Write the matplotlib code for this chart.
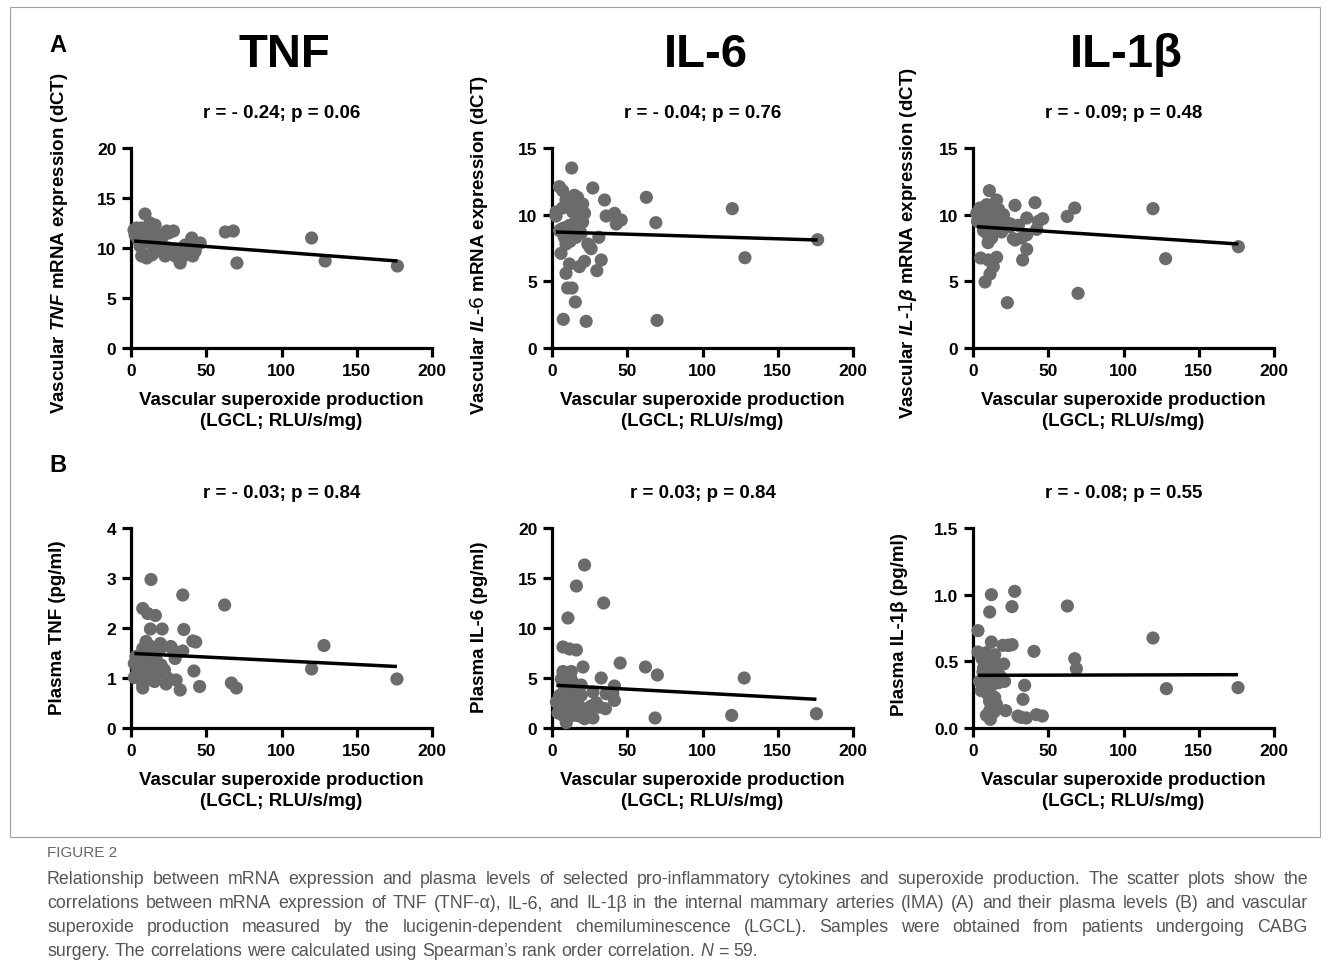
import numpy as np
import matplotlib
matplotlib.use("Agg")
import matplotlib.pyplot as plt
from matplotlib.patches import Rectangle

plt.rcParams["font.family"] = ["Liberation Sans", "DejaVu Sans"]
plt.rcParams["mathtext.fontset"] = "custom"
plt.rcParams["mathtext.it"] = "Liberation Sans:italic:bold"

# ---------------- data ----------------
# A: vascular mRNA expression (dCT) vs superoxide production
tnf_mrna_x = [2.7, 3.8, 4.9, 6, 8.2, 9.3, 9.3, 11.5, 12.7, 14.9, 16, 16, 18.2, 18.2, 20.4,
              21.5, 22.7, 23.8, 24.9, 27.1, 28.2, 29.3, 32.7, 34.9, 36, 38.2, 40.4, 42.7, 46,
              7.1, 10.4, 13.8, 62.7, 68, 70.4, 120, 129, 177,
              5, 7, 10, 12, 13, 11, 14, 17, 19, 20, 15, 9, 25, 26, 30, 33, 35, 41, 2, 8, 6]
tnf_mrna_y = [11.3, 12.0, 10.8, 11.2, 11.7, 13.4, 10.7, 10.8, 12.5, 11.2, 12.3, 10.3, 10.7, 9.8, 10.3,
              11.3, 9.2, 11.7, 10.0, 9.7, 11.7, 9.2, 8.5, 9.2, 10.3, 10.0, 11.0, 9.7, 10.5,
              9.2, 9.0, 9.3, 11.6, 11.7, 8.5, 11.0, 8.7, 8.2,
              11.5, 12.0, 11.5, 11.0, 10.5, 12.0, 11.8, 11.0, 11.2, 10.8, 9.5, 9.3, 11.5, 9.8, 9.9,
              9.8, 10.1, 9.2, 11.8, 10.5, 10.2]

il6_mrna_x = [13.1, 4.9, 7.1, 27.1, 34.9, 62.7, 9.3, 14.9, 20.4, 11.6, 2.7, 13.8, 21.6, 36, 41.6,
              42.7, 46, 20.4, 2.7, 6, 11.6, 13.8, 19.3, 8.2, 9.3, 16, 23.8, 26, 31.1, 6, 11.6,
              21.6, 18.2, 32.7, 9.3, 29.8, 10.4, 13.3, 15.5, 7.5, 22.7, 69, 69.8, 119.8, 128.2, 176.5,
              8, 10, 12, 14, 16, 18, 7, 11, 17, 25, 12, 5, 15]
il6_mrna_y = [13.5, 12.1, 11.8, 12.0, 11.1, 11.3, 11.1, 11.45, 10.8, 10.7, 10.2, 10.2, 10.1, 9.9, 10.1,
              9.3, 9.6, 9.45, 9.9, 8.9, 9.2, 8.8, 8.6, 8.3, 7.8, 8.3, 7.8, 7.45, 8.3, 7.1, 6.3,
              6.5, 6.1, 6.6, 5.6, 5.8, 4.5, 4.5, 3.45, 2.15, 2.0, 9.4, 2.07, 10.45, 6.77, 8.12,
              9.0, 8.6, 8.9, 9.2, 9.5, 9.0, 10.5, 11.0, 11.3, 7.6, 8.0, 8.8, 10.6]

il1b_mrna_x = [10.9, 15.7, 27.9, 41.2, 4.7, 9.1, 2.5, 6.9, 13.5, 20.2, 21.2, 35.7, 43.4, 46.3, 5.8,
               11.3, 16.9, 24.6, 30.2, 9.1, 14.6, 12.4, 26.8, 32.4, 35.7, 42.3, 35.7, 33, 5.1, 10.2,
               15.7, 13.5, 11.3, 8, 22.8, 62.6, 67.6, 69.8, 119.6, 128, 176.3,
               3, 8, 12, 14, 17, 18, 19, 7, 10, 25, 28, 4, 6, 11, 13, 16, 20, 9]
il1b_mrna_y = [11.8, 11.1, 10.7, 10.9, 10.5, 10.75, 10.1, 9.9, 10.1, 10.0, 9.5, 9.75, 9.5, 9.7, 9.4,
               9.1, 9.0, 9.1, 9.2, 8.6, 8.9, 8.25, 8.2, 8.25, 8.5, 8.9, 7.4, 6.6, 6.75, 6.6,
               6.8, 6.1, 5.55, 4.95, 3.4, 9.87, 10.5, 4.1, 10.45, 6.7, 7.6,
               9.5, 10.3, 9.8, 9.6, 10.4, 9.3, 8.7, 8.8, 7.9, 9.3, 8.1, 10.3, 10.0, 10.2, 9.4,
               9.7, 9.1, 9.9]

# B: plasma levels (pg/ml) vs superoxide production
tnf_plasma_x = [13.3, 34.4, 62.2, 7.8, 11.1, 16.2, 12.9, 20.7, 35.1, 41.1, 10, 7.8, 19.5, 26.4, 18.9,
                34.4, 3.3, 10, 14.4, 29.3, 2.2, 6.7, 12.2, 20, 4.4, 11.1, 16.7, 22.2, 41.8, 2.2,
                15.6, 24.4, 30, 7.8, 23.3, 7.8, 32.7, 45.6, 66.7, 70, 120, 128.2, 176.7,
                5, 9, 11, 13, 14, 8, 17, 12, 6, 10, 19, 16, 43, 9, 12, 27]
tnf_plasma_y = [2.97, 2.66, 2.46, 2.39, 2.29, 2.25, 1.98, 1.98, 1.97, 1.74, 1.73, 1.59, 1.69, 1.63, 1.56,
                1.54, 1.43, 1.46, 1.43, 1.39, 1.29, 1.33, 1.26, 1.26, 1.13, 1.16, 1.13, 1.16, 1.14, 1.01,
                0.93, 1.00, 0.96, 0.86, 0.88, 0.80, 0.76, 0.83, 0.90, 0.80, 1.18, 1.65, 0.98,
                1.2, 1.5, 1.35, 1.2, 1.55, 1.05, 1.35, 1.65, 1.4, 1.05, 1.1, 1.6, 1.72, 1.25, 1.45, 1.6]

il6_plasma_x = [21.6, 16.2, 34.3, 10.6, 7.3, 11.7, 16.2, 20.6, 45.3, 62.1, 70, 7.3, 12.8, 32.7, 6.2,
                9.5, 19.4, 13.9, 41.5, 8.4, 27.2, 36, 40.4, 5.1, 12.8, 19.4, 2.9, 10.6, 17.2, 29.4,
                41.5, 5.1, 22.7, 31.6, 35.5, 7.3, 13.9, 21.6, 27.2, 9.5, 68.5, 119.4, 127.7, 175.7,
                8, 11, 12, 14, 10, 9, 13, 6, 11, 15, 24, 26, 4, 14, 18]
il6_plasma_y = [16.3, 14.2, 12.5, 11.0, 8.1, 7.9, 7.8, 6.1, 6.5, 6.1, 5.3, 5.65, 5.65, 5.0, 4.9,
                4.6, 4.3, 4.1, 4.2, 3.76, 3.6, 3.43, 3.43, 3.26, 3.1, 3.26, 2.6, 2.33, 2.43, 2.53,
                2.76, 1.93, 1.93, 2.1, 1.93, 1.26, 1.26, 0.93, 1.0, 0.53, 1.0, 1.26, 5.0, 1.43,
                4.2, 3.6, 2.8, 2.0, 1.6, 3.0, 4.8, 2.2, 4.4, 1.8, 1.8, 2.2, 1.5, 3.8, 1.2]

il1b_plasma_x = [3.3, 3.3, 12.2, 11.1, 27.7, 25.9, 62.7, 119.6, 12.2, 19.9, 23.3, 26, 40.5, 8.9, 14.4,
                 8.4, 13.3, 20.4, 67.6, 68.7, 6.6, 14.4, 4.4, 10, 15.5, 21, 12.2, 34.3, 5.5, 8.9,
                 14.4, 15.5, 21.7, 33.2, 11.1, 8.9, 11.5, 29.9, 35.4, 42.1, 46.1, 128.5, 176.1, 8.4,
                 7, 12, 16, 10, 13, 9, 17, 11, 6, 18, 32, 14, 10, 7, 24]
il1b_plasma_y = [0.73, 0.57, 1.0, 0.87, 1.025, 0.91, 0.915, 0.675, 0.645, 0.62, 0.62, 0.625, 0.575, 0.565, 0.55,
                 0.51, 0.51, 0.48, 0.52, 0.445, 0.42, 0.43, 0.35, 0.37, 0.38, 0.35, 0.315, 0.32, 0.28, 0.27,
                 0.23, 0.18, 0.13, 0.215, 0.13, 0.095, 0.065, 0.09, 0.075, 0.1, 0.09, 0.295, 0.3025, 0.41,
                 0.45, 0.4, 0.42, 0.5, 0.36, 0.3, 0.34, 0.2, 0.52, 0.39, 0.08, 0.12, 0.25, 0.33, 0.62]

# regression line ends (y at first / last x), as drawn in the figure
fit_ends = [(10.7, 8.7), (8.7, 8.1), (9.1, 7.8),
            (1.49, 1.23), (4.27, 2.87), (0.395, 0.40)]

stats_text = ["r = - 0.24; p = 0.06", "r = - 0.04; p = 0.76", "r = - 0.09; p = 0.48",
              "r = - 0.03; p = 0.84", "r = 0.03; p = 0.84", "r = - 0.08; p = 0.55"]
y_labels = [r"Vascular $\mathit{TNF}$ mRNA expression (dCT)",
            r"Vascular $\mathit{IL}$-$\mathit{6}$ mRNA expression (dCT)",
            r"Vascular $\mathit{IL}$-$\mathit{1\beta}$ mRNA expression (dCT)",
            "Plasma TNF (pg/ml)", "Plasma IL-6 (pg/ml)", "Plasma IL-1β (pg/ml)"]
y_ticks = [[0, 5, 10, 15, 20], [0, 5, 10, 15], [0, 5, 10, 15],
           [0, 1, 2, 3, 4], [0, 5, 10, 15, 20], [0, 0.5, 1.0, 1.5]]
y_tick_labels = [None, None, None, None, None, ["0.0", "0.5", "1.0", "1.5"]]
x_ticks = [0, 50, 100, 150, 200]
x_label = "Vascular superoxide production\n(LGCL; RLU/s/mg)"
col_titles = ["TNF", "IL-6", "IL-1β"]

caption_head = "FIGURE 2"
caption_lines = [
    "Relationship between mRNA expression and plasma levels of selected pro-inflammatory cytokines and superoxide production. The scatter plots show the",
    "correlations between mRNA expression of TNF (TNF-α), IL-6, and IL-1β in the internal mammary arteries (IMA) (A) and their plasma levels (B) and vascular",
    "superoxide production measured by the lucigenin-dependent chemiluminescence (LGCL). Samples were obtained from patients undergoing CABG",
    "surgery. The correlations were calculated using Spearman’s rank order correlation. _N = 59.",
]

panels = [
    (tnf_mrna_x, tnf_mrna_y), (il6_mrna_x, il6_mrna_y), (il1b_mrna_x, il1b_mrna_y),
    (tnf_plasma_x, tnf_plasma_y), (il6_plasma_x, il6_plasma_y), (il1b_plasma_x, il1b_plasma_y),
]

# ---------------- layout (pixels) ----------------
W, H = 1331, 970
fig = plt.figure(figsize=(W / 100, H / 100), dpi=100)
fig.patch.set_facecolor("white")


def fx(px):
    return px / W


def fy(py):
    return 1 - py / H


col_left = [131, 552, 973]
row_top = [149, 529]
ax_w, ax_h = 301, 200
ylab_pos = [(60, 243), (479, 245), (908, 243), (57, 628), (479, 627), (900, 625)]

fig.add_artist(Rectangle((fx(10), fy(838)), fx(1310), 830 / H, transform=fig.transFigure,
                         fill=False, edgecolor="#a0a0a0", linewidth=0.8))

dot_color = "#6b6b6b"
for i, (xs, ys) in enumerate(panels):
    r, c = divmod(i, 3)
    left, top = col_left[c], row_top[r]
    ax = fig.add_axes([fx(left), fy(top + ax_h), ax_w / W, ax_h / H])
    ax.set_xlim(0, 200)
    ax.set_ylim(0, y_ticks[i][-1])
    for s in ("top", "right"):
        ax.spines[s].set_visible(False)
    for s in ("left", "bottom"):
        ax.spines[s].set_linewidth(2.3)
    ax.tick_params(direction="out", length=6.5, width=2.3, labelsize=12.5, pad=4)
    ax.set_xticks(x_ticks)
    ax.set_yticks(y_ticks[i])
    if y_tick_labels[i]:
        ax.set_yticklabels(y_tick_labels[i])
    for lab in ax.get_xticklabels() + ax.get_yticklabels():
        lab.set_fontweight("bold")

    ax.scatter(xs, ys, s=90, color=dot_color, edgecolors="none", zorder=3, clip_on=False)
    x0, x1 = min(xs), max(xs)
    ax.plot([x0, x1], list(fit_ends[i]), color="black", lw=2.5, zorder=4,
            solid_capstyle="butt")

    cx = left + ax_w / 2
    fig.text(fx(cx), fy(top - 35), stats_text[i], ha="center", va="center",
             fontsize=13.5, fontweight="bold")
    fig.text(fx(cx), fy(top + ax_h + 62), x_label, ha="center", va="center",
             fontsize=13.5, fontweight="bold", linespacing=1.3)
    lx, ly = ylab_pos[i]
    fig.text(fx(lx), fy(ly), y_labels[i], rotation=90, ha="center", va="center",
             fontsize=13.5, fontweight="bold")
    if r == 0:
        fig.text(fx(cx + 3), fy(55), col_titles[c], ha="center", va="center",
                 fontsize=34, fontweight="bold")

fig.text(fx(58), fy(45), "A", ha="center", va="center", fontsize=17, fontweight="bold")
fig.text(fx(58), fy(465), "B", ha="center", va="center", fontsize=17, fontweight="bold")

# ---------------- caption (justified) ----------------
cap_color = "#555555"
cap_font = ["Liberation Sans Narrow", "Liberation Sans", "DejaVu Sans"]
cap_left, cap_right = 47, 1308
fig.text(fx(cap_left), fy(853), caption_head, ha="left", va="center", fontsize=11,
         color="#666666", family=cap_font)

renderer = fig.canvas.get_renderer()
cap_size = 12.8
line_y = [880, 904, 928, 952]


def word_width(word, italic):
    t = fig.text(0, 0, word, fontsize=cap_size, family=cap_font,
                 style="italic" if italic else "normal")
    w = t.get_window_extent(renderer).width
    t.remove()
    return w


space_w = word_width("a a", False) - word_width("aa", False)
for k, line in enumerate(caption_lines):
    words = []
    for wd in line.split(" "):
        if wd.startswith("_"):
            words.append((wd[1:], True))
        else:
            words.append((wd, False))
    widths = [word_width(w, it) for w, it in words]
    last = k == len(caption_lines) - 1
    if last:
        gap = space_w
    else:
        gap = (cap_right - cap_left - sum(widths)) / (len(words) - 1)
    xpos = cap_left
    for (w, it), wd in zip(words, widths):
        fig.text(fx(xpos), fy(line_y[k]), w, ha="left", va="center", fontsize=cap_size,
                 family=cap_font, color=cap_color, style="italic" if it else "normal")
        xpos += wd + gap

fig.savefig("out.png", dpi=100)
